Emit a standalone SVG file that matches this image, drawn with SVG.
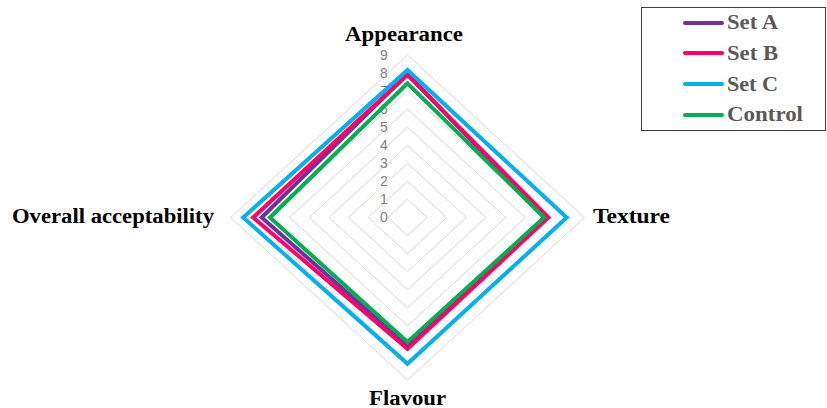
<svg xmlns="http://www.w3.org/2000/svg" width="827" height="408" viewBox="0 0 827 408">
<style>
.grid{fill:none;stroke:#d9d9d9;stroke-width:1}
.tick{font-family:"Liberation Sans",Arial,sans-serif;font-size:14px;fill:#808080;text-anchor:middle}
.axis{font-family:"Liberation Serif","Times New Roman",serif;font-weight:bold;font-size:20px;fill:#000}
.series{fill:none;stroke-width:4;stroke-linejoin:miter}
.leg{font-family:"Liberation Serif","Times New Roman",serif;font-weight:bold;font-size:20px;fill:#595959}
.legline{stroke-width:4;stroke-linecap:round}
</style>
<rect width="827" height="408" fill="#fff"/>
<g id="grid">
<polygon class="grid" points="407.5,199.45 427.15,217.5 407.5,235.55 387.85,217.5"/>
<polygon class="grid" points="407.5,181.4 446.8,217.5 407.5,253.6 368.2,217.5"/>
<polygon class="grid" points="407.5,163.35 466.45,217.5 407.5,271.65 348.55,217.5"/>
<polygon class="grid" points="407.5,145.3 486.1,217.5 407.5,289.7 328.9,217.5"/>
<polygon class="grid" points="407.5,127.25 505.75,217.5 407.5,307.75 309.25,217.5"/>
<polygon class="grid" points="407.5,109.2 525.4,217.5 407.5,325.8 289.6,217.5"/>
<polygon class="grid" points="407.5,91.15 545.05,217.5 407.5,343.85 269.95,217.5"/>
<polygon class="grid" points="407.5,73.1 564.7,217.5 407.5,361.9 250.3,217.5"/>
<polygon class="grid" points="407.5,55.05 584.35,217.5 407.5,379.95 230.65,217.5"/>
</g>
<g id="ticks">
<text class="tick" x="384" y="222">0</text>
<text class="tick" x="384" y="204">1</text>
<text class="tick" x="384" y="186">2</text>
<text class="tick" x="384" y="168">3</text>
<text class="tick" x="384" y="150">4</text>
<text class="tick" x="384" y="132">5</text>
<text class="tick" x="384" y="114">6</text>
<text class="tick" x="384" y="96">7</text>
<text class="tick" x="384" y="78">8</text>
<text class="tick" x="384" y="60">9</text>
</g>
<g id="series">
<polygon id="setA" class="series" stroke="#7030a0" points="407.5,74 545.05,217.5 407.5,345.7 261.7,217.5"/>
<polygon id="setB" class="series" stroke="#ff0066" points="407.5,74.9 548.4,217.5 407.5,348.7 253.25,217.5"/>
<polygon id="setC" class="series" stroke="#00b0f0" points="407.5,70 566.7,217.5 407.5,363.7 243.2,217.5"/>
<polygon id="control" class="series" stroke="#00b050" points="407.5,83.4 544.1,217.5 407.5,342 269.95,217.5"/>
</g>
<g id="axis-labels">
<text class="axis" x="345" y="41" textLength="118" lengthAdjust="spacingAndGlyphs">Appearance</text>
<text class="axis" x="593" y="223" textLength="77" lengthAdjust="spacingAndGlyphs">Texture</text>
<text class="axis" x="369" y="405" textLength="77" lengthAdjust="spacingAndGlyphs">Flavour</text>
<text class="axis" x="12" y="223" textLength="202" lengthAdjust="spacingAndGlyphs">Overall acceptability</text>
</g>
<g id="legend">
<rect x="641.5" y="7.5" width="184" height="123" fill="#fff" stroke="#404040" stroke-width="1"/>
<line class="legline" x1="685" y1="23" x2="722" y2="23" stroke="#7030a0"/>
<text class="leg" x="727" y="29" textLength="51" lengthAdjust="spacingAndGlyphs">Set A</text>
<line class="legline" x1="685" y1="53" x2="722" y2="53" stroke="#ff0066"/>
<text class="leg" x="727" y="60" textLength="51" lengthAdjust="spacingAndGlyphs">Set B</text>
<line class="legline" x1="685" y1="84" x2="722" y2="84" stroke="#00b0f0"/>
<text class="leg" x="727" y="91" textLength="51" lengthAdjust="spacingAndGlyphs">Set C</text>
<line class="legline" x1="685" y1="115" x2="722" y2="115" stroke="#00b050"/>
<text class="leg" x="727" y="121" textLength="76" lengthAdjust="spacingAndGlyphs">Control</text>
</g>
</svg>
